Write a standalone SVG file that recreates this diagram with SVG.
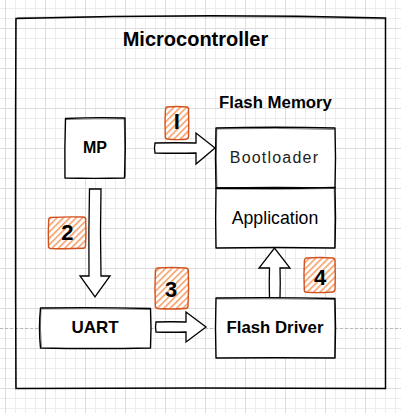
<svg xmlns="http://www.w3.org/2000/svg" width="401" height="413" viewBox="0 0 401 413">
<style>
.box{fill:#fff;stroke:#000;stroke-width:1.4;stroke-linejoin:round}
.sk{fill:none;stroke:#000;stroke-width:0.7;opacity:0.7}
.arr{fill:#fff;stroke:#000;stroke-width:1.3;stroke-linejoin:miter}
.badge{fill:url(#hatch);stroke:#d2521f;stroke-width:1.4}
.lbl{font-family:"Liberation Sans",Arial,sans-serif;font-weight:bold;fill:#000;text-anchor:middle}
.num{font-family:"Liberation Sans",Arial,sans-serif;font-weight:bold;font-size:22px;fill:#000;text-anchor:middle}
</style>
<defs>
<pattern id="minor" x="5" y="8" width="10" height="10" patternUnits="userSpaceOnUse">
<rect x="0" y="0" width="10" height="1" fill="#ececec"/>
<rect x="0" y="0" width="1" height="10" fill="#ececec"/>
</pattern>
<pattern id="major" x="5" y="28" width="40" height="40" patternUnits="userSpaceOnUse">
<rect x="0" y="0" width="40" height="1" fill="#dcdcdc"/>
<rect x="0" y="0" width="1" height="40" fill="#dcdcdc"/>
</pattern>
<pattern id="hatch" width="4.5" height="4.5" patternUnits="userSpaceOnUse" patternTransform="rotate(45)">
<rect width="4.5" height="4.5" fill="#fff"/>
<rect x="0" y="0" width="1.6" height="4.5" fill="#f6a26c"/>
</pattern>
</defs>
<rect width="401" height="413" fill="#fff"/>
<rect width="401" height="413" fill="url(#minor)"/>
<rect width="401" height="413" fill="url(#major)"/>
<line x1="0" y1="328.5" x2="401" y2="328.5" stroke="#b8b8b8" stroke-width="1" stroke-dasharray="3 2"/>

<g id="microcontroller">
<path d="M16,18.5 Q200,13.5 385.5,18 Q385,200 385.5,388.5 Q200,387.5 16,388.5 Q15,200 16,18.5 Z" fill="none" stroke="#000" stroke-width="1.5"/>
<path d="M17,17.5 Q200,15 386,19 M15.5,20 Q16.5,200 15.5,387" fill="none" stroke="#000" stroke-width="0.6" opacity="0.6"/>
<text class="lbl" x="195.5" y="46" font-size="20">Microcontroller</text>
</g>

<g id="connectors">
<path class="arr" d="M155,143 Q175,142.5 196,143 L196,133 L215,148 L196,164 L196,153 Q175,153.5 155,153 Q154,148 155,143 Z"/>
<path class="arr" d="M89.5,189 L101,189 Q100,232 101,276 L110,276 L95,297 L80,276 L89,276 Q88.5,232 89.5,189 Z"/>
<path class="arr" d="M156,322 Q171,321.5 186,322 L186,312 L206,327 L186,342 L186,332 Q171,332.5 156,332 Q155,327 156,322 Z"/>
<path class="arr" d="M269.5,298 Q269,283 269.5,268 L259,268 L274.5,248 L290,268 L280,268 Q280.5,283 280,298 Z"/>
</g>

<g id="mp">
<path class="box" d="M65.5,118.5 Q95,117 125,118 Q125.8,148 124.5,178 Q95,178.8 65,178 Q64.5,148 65.5,118.5 Z"/>
<path class="sk" d="M66,119.5 Q95,118.5 124,119 M124.2,119 Q125,148 125.3,177"/>
<text class="lbl" x="95" y="153" font-size="16">MP</text>
</g>

<g id="flash-memory">
<text class="lbl" x="275.5" y="108" font-size="16.8">Flash Memory</text>
</g>

<g id="bootloader">
<path class="box" d="M216,128 Q275,126.5 335,128 Q336,158 335,188 Q275,187 216,188 Q215,158 216,128 Z"/>
<path class="sk" d="M217,129 Q275,127.5 334,129.5 M216.8,129 Q215.6,158 217,187"/>
<text x="274.5" y="163.3" font-family="'Liberation Sans',Arial,sans-serif" font-size="16" letter-spacing="1.2" fill="#222" text-anchor="middle">Bootloader</text>
</g>

<g id="application">
<path class="box" d="M216,188 Q275,189 335,187.5 Q336,218 335,248 Q275,247 216,248 Q215.3,218 216,188 Z"/>
<path class="sk" d="M217,189 Q275,190 334,188.5 M334.2,189 Q335.3,218 334.5,247"/>
<text x="275" y="224" font-family="'Liberation Sans',Arial,sans-serif" font-size="17.7" fill="#000" text-anchor="middle">Application</text>
</g>

<g id="uart">
<path class="box" d="M40.5,308 Q95,307 150.5,308.5 Q151.5,328 150.5,348 Q95,349 40.5,348 Q38.5,328 40.5,308 Z"/>
<path class="sk" d="M41.5,309 Q95,308.2 149.5,309.5 M41,309 Q39.6,328 41.5,347"/>
<text class="lbl" x="95" y="333.3" font-size="17">UART</text>
</g>

<g id="flash-driver">
<path class="box" d="M216,298 Q275,297 335,298.5 Q336,328 335,358 Q275,357.5 216,358 Q215,328 216,298 Z"/>
<path class="sk" d="M217,299 Q275,298.3 334,299.5 M334.3,299 Q335.4,328 334.6,357"/>
<text class="lbl" x="275" y="333" font-size="16.8">Flash Driver</text>
</g>

<g id="badge-1">
<path class="badge" d="M167,107 Q177,106 187,107 Q189,108 188.5,110 Q189,123 188.5,137 Q188,139.5 186,139.3 Q176,140 167,139 Q165,138.5 165.3,136 Q164.6,122 165.5,109 Q165.7,107.2 167,107 Z"/>
<text class="num" x="176.7" y="129.3" font-size="20">I</text>
</g>

<g id="badge-2">
<path class="badge" d="M50.5,217.5 Q67,216.5 83.5,217 Q86,217.5 85.7,220 Q86.3,232 85.5,246 Q85.3,248.5 83,248.3 Q67,249 50.5,248.5 Q48.3,248 48.5,246 Q48,232 48.7,219.5 Q49,217.6 50.5,217.5 Z"/>
<text class="num" x="67.3" y="240">2</text>
</g>

<g id="badge-3">
<path class="badge" d="M157.5,268 Q171.5,267 186,268 Q188.5,268.5 188.3,271 Q189,289 188,306 Q188,308.5 185.5,308.5 Q171.5,309.5 157.5,308.5 Q155,308 155.3,305.5 Q154.6,289 155.4,270.5 Q155.6,268.3 157.5,268 Z"/>
<text class="num" x="171" y="296.7">3</text>
</g>

<g id="badge-4">
<path class="badge" d="M306.5,258 Q320,257 333,258 Q335.3,258.5 335,261 Q335.6,275 335,289.5 Q334.8,292 332.5,292 Q320,293 306.5,292.3 Q304,292 304.3,289.5 Q303.6,275 304.4,260.5 Q304.6,258.3 306.5,258 Z"/>
<text class="num" x="320" y="285">4</text>
</g>
</svg>
